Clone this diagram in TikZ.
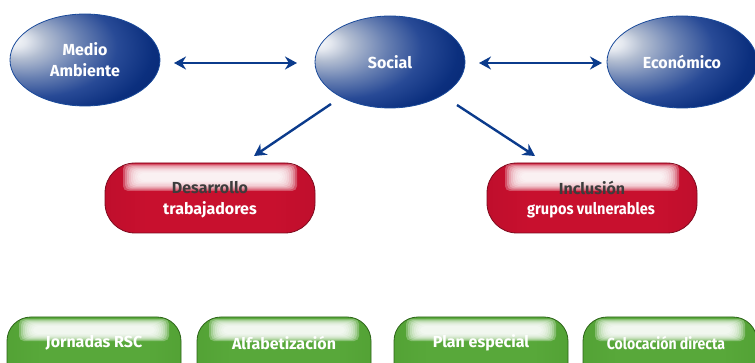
\documentclass[tikz,border=0pt]{standalone}
\usepackage{fontspec}
\setmainfont{Fira Sans}
\usetikzlibrary{shapes.geometric,arrows.meta}
\definecolor{arrowblue}{HTML}{0B3B8C}
\definecolor{ballrim}{HTML}{1A4A9A}
\definecolor{redrim}{HTML}{7E0A1E}
\definecolor{greenrim}{HTML}{2C6418}
\definecolor{darktext}{HTML}{3C3C3C}
\definecolor{bA}{HTML}{FAFBFC}
\definecolor{bB}{HTML}{E4E8EF}
\definecolor{bC}{HTML}{B2BDD1}
\definecolor{bD}{HTML}{6880B2}
\definecolor{bE}{HTML}{284A96}
\definecolor{bF}{HTML}{0B2F7E}
\definecolor{bG}{HTML}{05226A}
\definecolor{bH}{HTML}{031446}
\definecolor{bI}{HTML}{010820}
\definecolor{rEdge}{HTML}{8C0A22}
\definecolor{rMid}{HTML}{B40C2A}
\definecolor{rCen}{HTML}{C8102E}
\definecolor{gEdge}{HTML}{367A20}
\definecolor{gMid}{HTML}{4C9A2E}
\definecolor{gCen}{HTML}{58A83A}
\pgfdeclareradialshading{ballblue}{\pgfpoint{-25bp}{11bp}}{%
  color(0bp)=(bA);
  color(4bp)=(bB);
  color(9bp)=(bC);
  color(18bp)=(bD);
  color(27bp)=(bE);
  color(36bp)=(bF);
  color(48bp)=(bG);
  color(60bp)=(bH);
  color(78bp)=(bI)}
\pgfdeclarehorizontalshading{redbar}{100bp}{%
  color(0bp)=(rEdge);
  color(12bp)=(rMid);
  color(35bp)=(rCen);
  color(65bp)=(rCen);
  color(88bp)=(rMid);
  color(100bp)=(rEdge)}
\pgfdeclarehorizontalshading{greenbar}{100bp}{%
  color(0bp)=(gEdge);
  color(10bp)=(gMid);
  color(35bp)=(gCen);
  color(65bp)=(gCen);
  color(90bp)=(gMid);
  color(100bp)=(gEdge)}
\tikzset{
  ball/.style={ellipse, minimum width=150pt, minimum height=92pt, inner sep=0pt,
    shading=ballblue, draw=ballrim, line width=0.8pt, text=white,
    font=\bfseries\fontsize{16}{21}\selectfont, align=center},
  bothway/.style={arrowblue, line width=2.4pt, {Stealth[length=12pt,width=13pt]}-{Stealth[length=12pt,width=13pt]}},
  oneway/.style={arrowblue, line width=2.4pt, -{Stealth[length=12pt,width=13pt]}},
  pill/.style={rounded corners=30pt, draw=redrim, line width=0.8pt, shading=redbar},
  greenpill/.style={rounded corners=24pt, draw=greenrim, line width=0.8pt, shading=greenbar},
  glow/.style={fill=white, opacity=0.28, rounded corners=5pt},
  lbl/.style={font=\bfseries\fontsize{16}{21}\selectfont, inner sep=0pt},
}
\begin{document}
\begin{tikzpicture}[x=1pt,y=-1pt]
\useasboundingbox (0,0) rectangle (755,363);
\clip (0,0) rectangle (755,363);
% ellipses
\node[ball] (medio) at (85,60) {Medio\\Ambiente};
\node[ball] (social) at (390,62) {Social};
\node[ball] (econ) at (682,62) {Económico};
% arrow end points
\coordinate (a1) at (174,63);
\coordinate (a2) at (297,63);
\coordinate (a3) at (479,63);
\coordinate (a4) at (602,63);
\coordinate (d1) at (331,104);
\coordinate (d2) at (254,156);
\coordinate (e1) at (457,105);
\coordinate (e2) at (535,156);
\draw[bothway] (a1) -- (a2);
\draw[bothway] (a3) -- (a4);
\draw[oneway] (d1) -- (d2);
\draw[oneway] (e1) -- (e2);
% red pills
\foreach \xa in {105,487}{
  \path[pill] (\xa,163) rectangle ++(210,70);
  \foreach \k in {0,...,8}{
    \path[glow] (\xa+18+2*\k,164+1.1*\k) rectangle (\xa+192-2*\k,191-1.3*\k);
  }
}
\node[lbl, text=darktext] (des) at (210,188) {Desarrollo};
\node[lbl, text=white] (desb) at (210,210) {trabajadores};
\node[lbl, text=darktext] (inc) at (592,188) {Inclusión};
\node[lbl, text=white] (incb) at (591,210) {\scalebox{0.91}[1]{grupos vulnerables}};
% green pills
\foreach \xa in {7,197,394,583}{
  \path[greenpill] (\xa,317) rectangle ++(174,70);
  \foreach \k in {0,...,7}{
    \path[glow] (\xa+12+2*\k,319+1*\k) rectangle (\xa+162-2*\k,341-1*\k);
  }
}
\node[lbl, text=white] (g1) at (94,343) {Jornadas RSC};
\node[lbl, text=white] (g2) at (284,343) {Alfabetización};
\node[lbl, text=white] (g3) at (481,343) {Plan especial};
\node[lbl, text=white] (g4) at (666,343) {\scalebox{0.88}[1]{Colocación directa}};
\end{tikzpicture}
\end{document}
